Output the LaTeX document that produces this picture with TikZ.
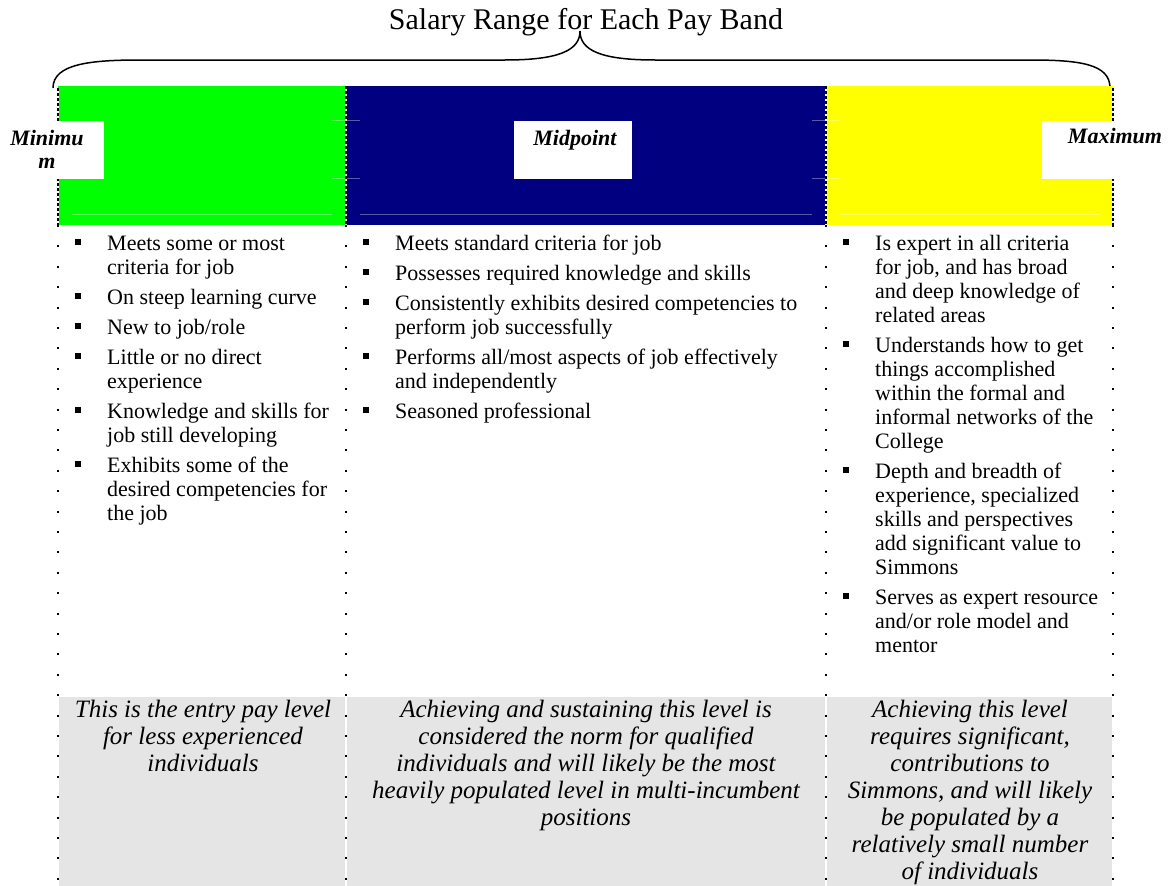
\documentclass[tikz,border=0pt]{standalone}
\usepackage{fontspec}
\setmainfont{Liberation Serif}
\definecolor{bandgreen}{RGB}{0,255,0}
\definecolor{bandnavy}{RGB}{0,0,128}
\definecolor{bandyellow}{RGB}{255,255,0}
\definecolor{notegray}{RGB}{229,229,229}
\tikzset{
  divider/.style={line width=1.3pt, dash pattern=on 3pt off 2pt},
  dotline/.style={line width=1.3pt, dash pattern=on 2pt off 18.4pt},
  gridline/.style={white, opacity=0.35, line width=0.8pt},
  caption/.style={inner sep=0pt, font=\fontsize{22}{23}\selectfont\bfseries\itshape},
  bullets/.style={anchor=base west, inner sep=0pt, font=\fontsize{22}{24}\selectfont},
  note/.style={anchor=base, inner sep=0pt, font=\fontsize{25}{27}\selectfont\itshape}
}
\newcommand{\sq}{\rule[5pt]{6pt}{6pt}}

\begin{document}
\begin{tikzpicture}[x=1pt,y=-1pt]
  \useasboundingbox (0,0) rectangle (1170,886);

  % title and brace
  \node[anchor=base, inner sep=0pt, font=\fontsize{30}{32}\selectfont] (title) at (586,29)
    {Salary Range for Each Pay Band};
  \draw[line width=1.5pt] (53,88) .. controls (53,64) and (90,60) .. (140,60) -- (505,60)
    .. controls (560,60) and (580,50) .. (580,31)
    .. controls (580,50) and (600,60) .. (655,60) -- (1030,60)
    .. controls (1080,60) and (1110,64) .. (1110,88);

  % pay band bars
  \fill[bandgreen] (58,86) rectangle (346,225);
  \fill[bandnavy] (346,86) rectangle (826,225);
  \fill[bandyellow] (826,86) rectangle (1113,225);
  \draw[gridline] (72,214) -- (332,214) (332,120) -- (360,120) (332,178) -- (360,178)
    (360,214) -- (812,214) (812,120) -- (840,120) (812,178) -- (840,178)
    (840,214) -- (1100,214) (346,225) -- (826,225);

  % lower notes background
  \fill[notegray] (58,697) rectangle (1113,886);
  \draw[white, line width=2pt] (58,697) -- (58,886) (346,697) -- (346,886)
    (826,697) -- (826,886) (1113,697) -- (1113,886);

  % column dividers
  \draw[white, line width=1.3pt] (58,88) -- (58,225) (346,86) -- (346,225)
    (826,86) -- (826,225) (1113,88) -- (1113,225);
  \draw[divider] (58,88) -- (58,225) (346,86) -- (346,225)
    (826,86) -- (826,225) (1113,88) -- (1113,225);
  \draw[dotline] (58,225) -- (58,886) (346,225) -- (346,886)
    (826,225) -- (826,886) (1113,225) -- (1113,886);

  % label cut-outs
  \fill[white] (56,121) rectangle (104,179);
  \fill[white] (514,121) rectangle (632,179);
  \fill[white] (1042,121) rectangle (1115,179);
  \node[caption, anchor=base, align=center] (minimum) at (47,168) {Minimu\\m};
  \node[caption, anchor=base] (midpoint) at (575,145) {Midpoint};
  \node[caption, anchor=base] (maximum) at (1115,143) {Maximum};

  % bullet lists
  \node[bullets] (listmin) at (75,250) {\begin{tabular}[t]{@{}l@{\hspace{26pt}}l@{}}
    \sq & Meets some or most\\
        & criteria for job\\[6pt]
    \sq & On steep learning curve\\[6pt]
    \sq & New to job/role\\[6pt]
    \sq & Little or no direct\\
        & experience\\[6pt]
    \sq & Knowledge and skills for\\
        & job still developing\\[6pt]
    \sq & Exhibits some of the\\
        & desired competencies for\\
        & the job
  \end{tabular}};
  \node[bullets] (listmid) at (363,250) {\begin{tabular}[t]{@{}l@{\hspace{26pt}}l@{}}
    \sq & Meets standard criteria for job\\[6pt]
    \sq & Possesses required knowledge and skills\\[6pt]
    \sq & Consistently exhibits desired competencies to\\
        & perform job successfully\\[6pt]
    \sq & Performs all/most aspects of job effectively\\
        & and independently\\[6pt]
    \sq & Seasoned professional
  \end{tabular}};
  \node[bullets] (listmax) at (843,250) {\begin{tabular}[t]{@{}l@{\hspace{26pt}}l@{}}
    \sq & Is expert in all criteria\\
        & for job, and has broad\\
        & and deep knowledge of\\
        & related areas\\[6pt]
    \sq & Understands how to get\\
        & things accomplished\\
        & within the formal and\\
        & informal networks of the\\
        & College\\[6pt]
    \sq & Depth and breadth of\\
        & experience, specialized\\
        & skills and perspectives\\
        & add significant value to\\
        & Simmons\\[6pt]
    \sq & Serves as expert resource\\
        & and/or role model and\\
        & mentor
  \end{tabular}};

  % notes under each band
  \node[note] (notemin) at (203,717) {\begin{tabular}[t]{@{}c@{}}
    This is the entry pay level\\ for less experienced\\ individuals
  \end{tabular}};
  \node[note] (notemid) at (586,717) {\begin{tabular}[t]{@{}c@{}}
    Achieving and sustaining this level is\\ considered the norm for qualified\\
    individuals and will likely be the most\\ heavily populated level in multi-incumbent\\
    positions
  \end{tabular}};
  \node[note] (notemax) at (970,717) {\begin{tabular}[t]{@{}c@{}}
    Achieving this level\\ requires significant,\\ contributions to\\
    Simmons, and will likely\\ be populated by a\\ relatively small number\\
    of individuals
  \end{tabular}};
\end{tikzpicture}
\end{document}
